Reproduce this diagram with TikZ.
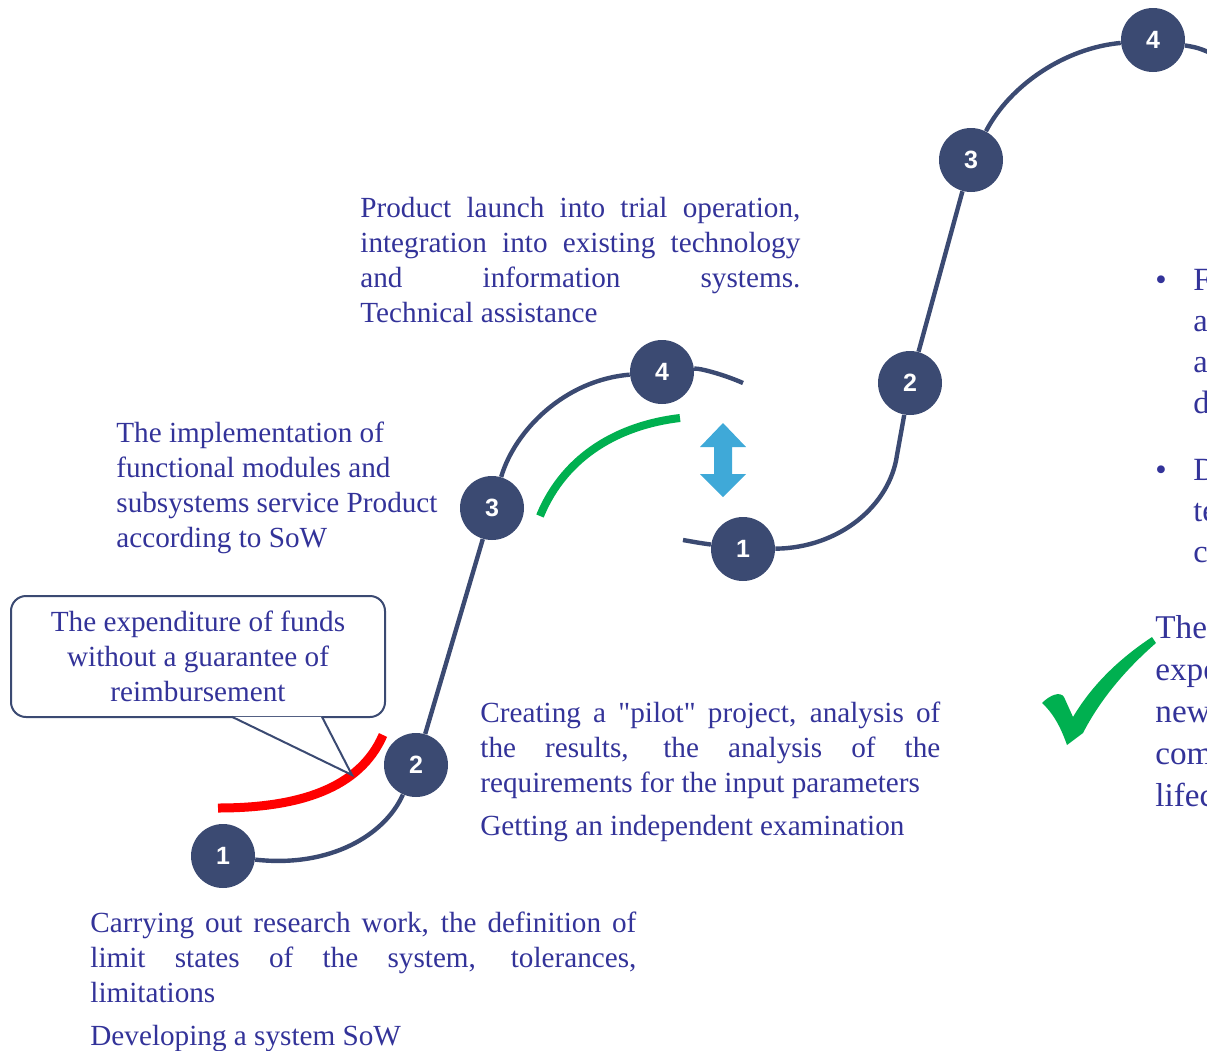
\documentclass[tikz,border=0pt]{standalone}
\usepackage{fontspec}
\setmainfont{Liberation Serif}
\newfontfamily\numfont{Liberation Sans}
\definecolor{navy}{RGB}{59,74,114}
\definecolor{textblue}{RGB}{51,51,153}
\definecolor{okgreen}{RGB}{0,176,80}
\definecolor{arrowblue}{RGB}{63,169,216}
\hyphenpenalty=10000
\tolerance=9000

\begin{document}
\begin{tikzpicture}[x=0.5pt, y=-0.5pt,
  stage/.style={circle, fill=navy, text=white, minimum size=32pt, inner sep=0pt,
    font=\numfont\bfseries\fontsize{12.5pt}{14pt}\selectfont},
  track/.style={draw=navy, line width=2.2pt},
  caption/.style={text=textblue, inner sep=0pt, anchor=north west,
    font=\fontsize{14.6pt}{17.5pt}\selectfont}]
  \useasboundingbox (0,0) rectangle (1207,1051);
  \clip (0,0) rectangle (1207,1051);

  % first run of stages
  \node[stage] (l1) at (223,856) {1};
  \node[stage] (l2) at (416,765) {2};
  \node[stage] (l3) at (492,508) {3};
  \node[stage] (l4) at (662,372) {4};
  \coordinate (l5) at (743,383);
  \draw[track] (l1) .. controls (330,868) and (385,835) .. (l2);
  \draw[track] (l2) -- (l3);
  \draw[track] (l3) .. controls (515,430) and (565,380) .. (l4);
  \draw[track] (l4) .. controls (700,368) and (725,375) .. (l5);

  % second run of stages
  \coordinate (r0) at (683,540);
  \node[stage] (r1) at (743,549) {1};
  \node[stage] (r2) at (910,383) {2};
  \node[stage] (r3) at (971,160) {3};
  \node[stage] (r4) at (1153,40) {4};
  \coordinate (rk) at (897,455);
  \coordinate (r5) at (1232,63);
  \draw[track] (r0) .. controls (700,543) .. (r1);
  \draw[track] (r1) .. controls (840,548) and (890,505) .. (rk) -- (r2);
  \draw[track] (r2) -- (r3);
  \draw[track] (r3) .. controls (1010,85) and (1065,48) .. (r4);
  \draw[track] (r4) .. controls (1200,48) .. (r5);

  % risk and success arcs
  \draw[red, line width=4.5pt] (218,808) .. controls (300,808) and (360,788) .. (383,735);
  \draw[okgreen, line width=4pt] (540,516) .. controls (565,455) and (620,425) .. (680,418);

  % up/down arrow between the runs
  \fill[arrowblue] (723,423) -- (746,447) -- (732,447) -- (732,474) -- (746,474)
    -- (723,497) -- (700,474) -- (714,474) -- (714,447) -- (700,447) -- cycle;

  % callout
  \node[draw=navy, line width=1pt, rounded corners=7.5pt, fill=white,
    minimum width=187pt, minimum height=60.5pt, text=textblue, align=center,
    font=\fontsize{14.6pt}{17.5pt}\selectfont] (note) at (198,656.5)
    {The expenditure of funds\\without a guarantee of\\reimbursement};
  \coordinate (tip) at (352,775);
  \filldraw[draw=navy, fill=white, line width=1pt]
    ([xshift=17pt,yshift=0.6pt]note.south) -- (tip) -- ([xshift=62pt,yshift=0.6pt]note.south);

  % check mark
  \fill[okgreen] (1042,703) .. controls (1050,695) and (1060,691) .. (1064,697)
    -- (1073,717) .. controls (1095,680) and (1125,655) .. (1152,637)
    -- (1156,643) .. controls (1125,670) and (1100,700) .. (1083,733)
    -- (1067,745) .. controls (1060,725) and (1052,712) .. cycle;

  % stage texts
  \node[caption, text width=220pt, align=justify] (launch) at (360,197)
    {Product launch into trial operation,\linebreak integration into existing technology\linebreak and information systems.\linebreak Technical assistance};
  \node[caption, align=left] (modules) at (116,422)
    {The implementation of\\functional modules and\\subsystems service Product\\according to SoW};
  \node[caption, text width=230pt, align=justify] (pilot) at (480,702)
    {Creating a \textquotedbl pilot\textquotedbl{} project, analysis of\linebreak the results, the analysis of the\linebreak requirements for the input parameters\par\vspace{4pt}Getting an independent examination};
  \node[caption, text width=273pt, align=justify] (research) at (90,912)
    {Carrying out research work, the definition of\linebreak limit states of the system, tolerances,\linebreak limitations\par\vspace{4pt}Developing a system SoW};

  % right hand column
  \node[text=textblue, anchor=base, inner sep=0pt, font=\fontsize{16.2pt}{20.5pt}\selectfont] (dotA) at (1161,290) {\textbullet};
  \node[text=textblue, anchor=base, inner sep=0pt, font=\fontsize{16.2pt}{20.5pt}\selectfont] (dotB) at (1161,480) {\textbullet};
  \node[caption, align=left, font=\fontsize{16.2pt}{20.5pt}\selectfont] (planA) at (1193,269) {F\\a\\a\\d};
  \node[caption, align=left, font=\fontsize{16.2pt}{20.5pt}\selectfont] (planB) at (1193,459) {D\\te\\c};
  \node[caption, align=left, font=\fontsize{16.6pt}{21pt}\selectfont] (verdict) at (1155,615) {The\\expe\\new\\com\\lifec};
\end{tikzpicture}
\end{document}
